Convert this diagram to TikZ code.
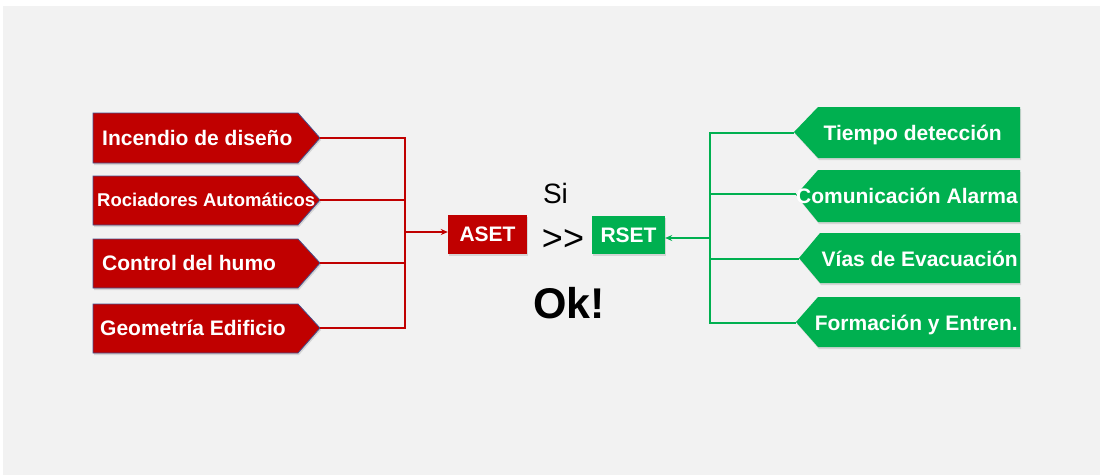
\documentclass[tikz,border=0pt]{standalone}
\usepackage{fontspec}
\setmainfont{Liberation Sans}
\usetikzlibrary{arrows.meta,shadows}

\definecolor{bgray}{HTML}{F2F2F2}
\definecolor{fred}{HTML}{C00000}
\definecolor{fgreen}{HTML}{00B050}
\definecolor{redrim}{RGB}{70,80,140}

\tikzset{
  redbox/.style={fill=fred, draw=redrim, line width=0.8pt,
    drop shadow={opacity=0.25, shadow xshift=1pt, shadow yshift=-2pt}},
  greenbox/.style={fill=fgreen,
    drop shadow={opacity=0.25, shadow xshift=1pt, shadow yshift=-2pt}},
  lbl/.style={text=white, inner sep=0pt, font=\bfseries\fontsize{21}{21}\selectfont},
  redline/.style={draw=fred, line width=2pt},
  greenline/.style={draw=fgreen, line width=2.8pt},
  tag/.style={text=white, inner sep=0pt, font=\bfseries\fontsize{21}{21}\selectfont,
    drop shadow={opacity=0.25, shadow xshift=1pt, shadow yshift=-2pt}},
}

\begin{document}
\begin{tikzpicture}[x=1pt, y=-1pt]
  \useasboundingbox (0,0) rectangle (1100,475);
  \fill[white] (0,0) rectangle (1100,475);
  \fill[bgray] (3,6) rectangle (1100,475);

  % left factor boxes (pointing right)
  \path[redbox] (93,113) -- (298,113) -- (320,138) -- (298,163) -- (93,163) -- cycle;
  \path[redbox] (93,176) -- (298,176) -- (320,200) -- (298,225) -- (93,225) -- cycle;
  \path[redbox] (93,239) -- (298,239) -- (320,263) -- (298,288) -- (93,288) -- cycle;
  \path[redbox] (93,304) -- (298,304) -- (320,328) -- (298,353) -- (93,353) -- cycle;
  \coordinate (r1) at (320,138);
  \coordinate (r2) at (320,200);
  \coordinate (r3) at (320,263);
  \coordinate (r4) at (320,328);
  \node[lbl, anchor=base west] (t1) at (102,145.5) {Incendio de diseño};
  \node[lbl, anchor=base west, font=\bfseries\fontsize{18.5}{18.5}\selectfont] (t2) at (97,206.5) {Rociadores Automáticos};
  \node[lbl, anchor=base west] (t3) at (102,270.5) {Control del humo};
  \node[lbl, anchor=base west] (t4) at (100,335.5) {Geometría Edificio};

  % right factor boxes (pointing left)
  \path[greenbox] (1020,107) -- (818,107) -- (794,132) -- (818,158) -- (1020,158) -- cycle;
  \path[greenbox] (1020,170) -- (818,170) -- (796,195) -- (818,222) -- (1020,222) -- cycle;
  \path[greenbox] (1020,233) -- (820,233) -- (799,258) -- (820,283) -- (1020,283) -- cycle;
  \path[greenbox] (1020,297) -- (818,297) -- (796,322) -- (818,347) -- (1020,347) -- cycle;
  \coordinate (g1) at (794,133);
  \coordinate (g2) at (796,194);
  \coordinate (g3) at (799,259);
  \coordinate (g4) at (796,323);
  \node[lbl, anchor=base east] (u1) at (1002,140) {Tiempo detección};
  \node[lbl, anchor=base east] (u2) at (1018,203) {Comunicación Alarma};
  \node[lbl, anchor=base east] (u3) at (1018,266) {Vías de Evacuación};
  \node[lbl, anchor=base east] (u4) at (1018,330) {Formación y Entren.};

  % central comparison
  \node[tag, fill=fred, minimum width=79pt, minimum height=39pt] (aset) at (487.5,234.5) {ASET};
  \node[tag, fill=fgreen, minimum width=73pt, minimum height=38pt] (rset) at (628.5,235) {RSET};
  \node[inner sep=0pt, anchor=base, font=\fontsize{28}{28}\selectfont] (si) at (555.5,203) {Si};
  \node[inner sep=0pt, font=\fontsize{36}{36}\selectfont] (gg) at (563,240) {\mbox{>}\kern0pt\mbox{>}};
  \node[inner sep=0pt, anchor=base, font=\bfseries\fontsize{43}{43}\selectfont] (ok) at (569,318) {Ok!};

  % connectors
  \coordinate (rbus) at (405,232);
  \coordinate (gbus) at (710,238);
  \foreach \c in {r1,r2,r3,r4} \draw[redline] (\c) -| (rbus);
  \draw[redline, -{Stealth[length=7pt,width=6pt]}] (rbus) -- (aset.west |- rbus);
  \foreach \c in {g1,g2,g3,g4} \draw[greenline] (\c) -| (gbus);
  \draw[greenline, line width=2pt, -{Stealth[length=7pt,width=6pt]}] (gbus) -- (rset.east |- gbus);
\end{tikzpicture}
\end{document}
